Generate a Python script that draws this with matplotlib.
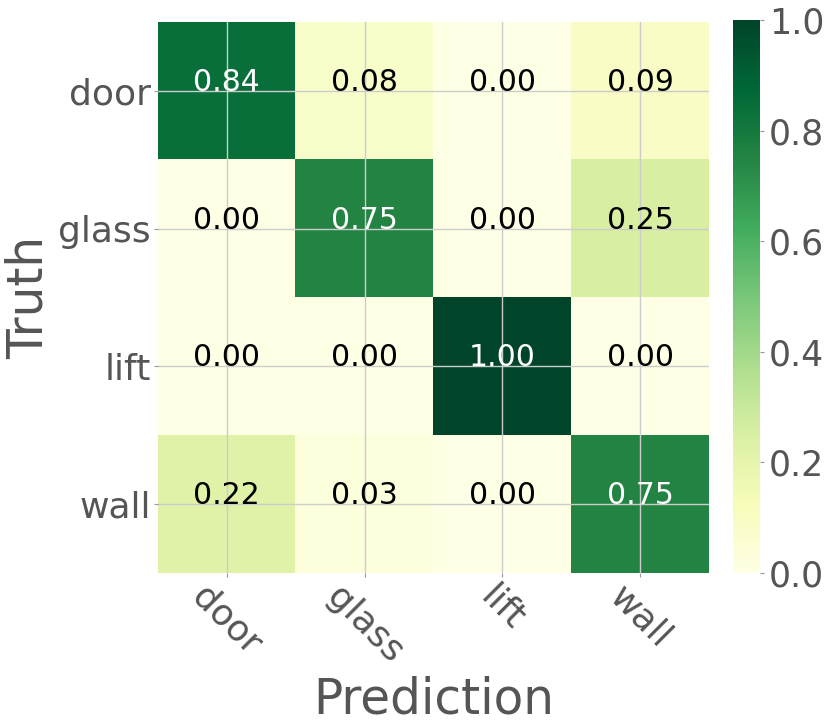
import numpy as np
import matplotlib.pyplot as plt

classes = ["door", "glass", "lift", "wall"]
conf = np.array([
    [0.84, 0.08, 0.00, 0.09],
    [0.00, 0.75, 0.00, 0.25],
    [0.00, 0.00, 1.00, 0.00],
    [0.22, 0.03, 0.00, 0.75],
])
cbar_ticks = [0.0, 0.2, 0.4, 0.6, 0.8, 1.0]

txt_gray = '#555555'

fig = plt.figure(figsize=(8.31, 7.28), dpi=100)
ax = fig.add_axes([0.1901, 0.2129, 0.663, 0.7569])
cax = fig.add_axes([0.882, 0.2129, 0.0325, 0.7596])

im = ax.imshow(conf, cmap='YlGn', vmin=0, vmax=1, aspect='auto', interpolation='nearest')

# cell values
for i in range(conf.shape[0]):
    for j in range(conf.shape[1]):
        val = conf[i, j]
        ax.text(j, i, "%.2f" % val, ha='center', va='baseline', fontsize=21.5,
                color='white' if val > 0.5 else 'black')

ax.set_xticks(np.arange(len(classes)))
ax.set_yticks(np.arange(len(classes)))
ax.set_xticklabels(classes, rotation=-45, fontsize=26, color=txt_gray)
ax.set_yticklabels(classes, fontsize=26, color=txt_gray)
ax.tick_params(axis='both', length=3, width=0.8, color='#999999', pad=2)
ax.grid(True, color='#cccccc', lw=1)
for s in ax.spines.values():
    s.set_visible(False)

ax.set_xlabel('Prediction', fontsize=35, color=txt_gray, labelpad=4)
ax.set_ylabel('Truth', fontsize=35, color=txt_gray, labelpad=4)

cb = fig.colorbar(im, cax=cax, ticks=cbar_ticks)
cb.outline.set_visible(False)
cb.ax.tick_params(labelsize=25, labelcolor=txt_gray, length=3, color='#999999')
cb.ax.set_yticklabels(["%.1f" % t for t in cbar_ticks])

plt.savefig('out.png', dpi=100, facecolor='w')
